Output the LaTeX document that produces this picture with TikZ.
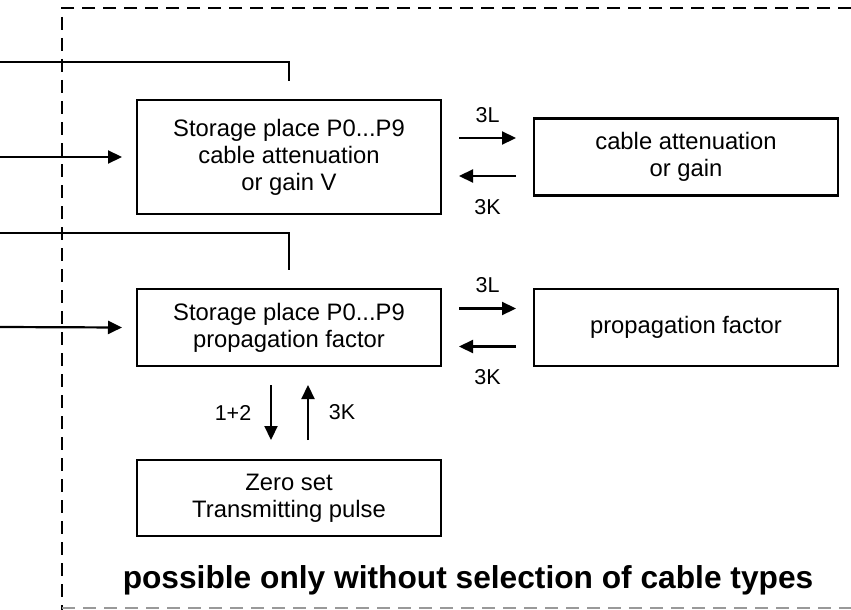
\documentclass[tikz,border=0pt]{standalone}
\usepackage{fontspec}
\setmainfont{Liberation Sans}
\usetikzlibrary{arrows.meta, positioning}

\begin{document}
\begin{tikzpicture}[
    x=1pt, y=-1pt,
    node distance=93pt,
    box/.style={rectangle, draw, line width=2.2pt, minimum width=304pt,
                outer sep=0pt, align=center, text centered,
                font=\fontsize{23.8}{27}\selectfont},
    lbl/.style={font=\fontsize{21.5}{25}\selectfont},
    arrow/.style={-{Triangle[length=14pt,width=13pt]}, line width=2.2pt},
    wire/.style={line width=2.2pt},
    frame/.style={dash pattern=on 13pt off 8pt, line width=2.2pt}
]
\useasboundingbox (0,0) rectangle (851,610);

% dashed frame
\draw[frame] (851,8) -- (62,8) -- (62,610);
\draw[frame, black!40] (62,608) -- (851,608);

\node[box, minimum height=114pt] (store1) at (289,157) {Storage place P0...P9\\cable attenuation\\or gain V};
\node[box, minimum height=77pt, right=of store1] (atten) {cable attenuation\\or gain};
\node[box, minimum height=77pt, below=75pt of store1] (store2) {Storage place P0...P9\\propagation factor};
\node[box, minimum height=77pt, right=of store2] (prop) {propagation factor};
\node[box, minimum height=76pt, below=94pt of store2] (zero) {Zero set\\Transmitting pulse};

% incoming lines
\coordinate (in1) at (0,62);
\coordinate (in2) at (0,157);
\coordinate (in3) at (0,233);
\coordinate (in4) at (0,327);

\draw[wire] (in1) -| ([yshift=19pt]store1.north);
\draw[arrow] (in2) -- ([xshift=-15pt]store1.west);
\draw[wire] (in3) -| ([yshift=19pt]store2.north);
\draw[arrow] (in4) -- ([xshift=-15pt]store2.west);

% between storage and right boxes
\draw[arrow] ([xshift=18pt,yshift=19pt]store1.east) -- ([xshift=-18pt,yshift=19pt]atten.west)
    node[lbl, midway, yshift=23pt] (l1) {3L};
\draw[arrow] ([xshift=-18pt,yshift=-19pt]atten.west) -- ([xshift=18pt,yshift=-19pt]store1.east)
    node[lbl, midway, yshift=-31pt] (k1) {3K};
\draw[arrow] ([xshift=18pt,yshift=19pt]store2.east) -- ([xshift=-18pt,yshift=19pt]prop.west)
    node[lbl, midway, yshift=23pt] (l2) {3L};
\draw[arrow] ([xshift=-18pt,yshift=-19pt]prop.west) -- ([xshift=18pt,yshift=-19pt]store2.east)
    node[lbl, midway, yshift=-31pt] (k2) {3K};

% storage and zero set
\draw[arrow] ([xshift=-18pt,yshift=-19pt]store2.south) -- ([xshift=-18pt,yshift=20pt]zero.north)
    node[lbl, midway, xshift=-38pt] (z1) {1+2};
\draw[arrow] ([xshift=19pt,yshift=20pt]zero.north) -- ([xshift=19pt,yshift=-19pt]store2.south)
    node[lbl, midway, xshift=34pt] (z2) {3K};

\node[font=\fontsize{31.7}{36}\selectfont\bfseries] (note) at (468,580) {possible only without selection of cable types};

\end{tikzpicture}
\end{document}
